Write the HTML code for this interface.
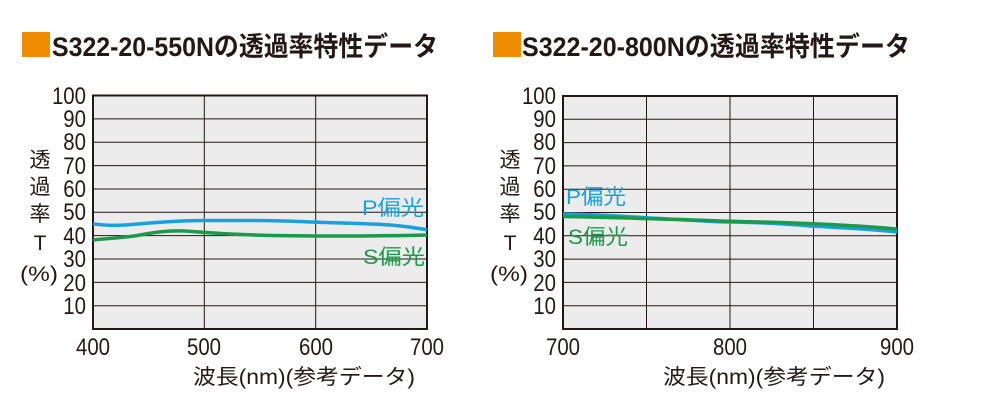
<!DOCTYPE html>
<html><head><meta charset="utf-8"><style>
html,body{margin:0;padding:0;background:#fff;}
svg{display:block;}
text{font-family:"Liberation Sans","Noto Sans CJK JP",sans-serif;}
.t{font-weight:bold;font-size:27px;fill:#231815;}
.n{font-size:24px;fill:#231815;}
.j{font-size:21px;fill:#231815;}
</style></head><body>
<svg width="1002" height="403" viewBox="0 0 1002 403" xmlns="http://www.w3.org/2000/svg">
<rect x="22" y="32" width="28" height="25" fill="#ef8c00"/>
<text class="t" x="52" y="56" textLength="386" lengthAdjust="spacingAndGlyphs">S322-20-550Nの透過率特性データ</text>
<rect x="493" y="32" width="28" height="25" fill="#ef8c00"/>
<text class="t" x="522" y="56" textLength="388" lengthAdjust="spacingAndGlyphs">S322-20-800Nの透過率特性データ</text>

<g>
<rect x="93" y="95.5" width="334" height="233.5" fill="#ececec" stroke="#231815" stroke-width="2"/>
<g stroke="#231815" stroke-width="1">
<line x1="93" x2="427" y1="118.9" y2="118.9"/><line x1="93" x2="427" y1="142.2" y2="142.2"/>
<line x1="93" x2="427" y1="165.6" y2="165.6"/><line x1="93" x2="427" y1="189" y2="189"/>
<line x1="93" x2="427" y1="212.3" y2="212.3"/><line x1="93" x2="427" y1="235.6" y2="235.6"/>
<line x1="93" x2="427" y1="259" y2="259"/><line x1="93" x2="427" y1="282.4" y2="282.4"/>
<line x1="93" x2="427" y1="305.7" y2="305.7"/>
<line x1="204.3" x2="204.3" y1="95.5" y2="329"/><line x1="315.7" x2="315.7" y1="95.5" y2="329"/>
</g>
<path d="M93 224 C105 225 112 226 125 225 C150 223 175 220.5 204 220.5 C240 220.5 260 220 300 221.5 C330 223 360 223 390 225 C405 226 415 228 427 229.7" fill="none" stroke="#1aa0dd" stroke-width="3.5"/>
<path d="M93 240 C110 238 125 238 140 235 C160 231 175 230.5 185 231 C200 232 210 233 230 234 C260 235.5 290 236 340 236 C380 236 400 235.5 427 235" fill="none" stroke="#1a9a4a" stroke-width="3.5"/>
<text class="j" x="362" y="215" textLength="62" lengthAdjust="spacingAndGlyphs" style="fill:#1aa0dd">P偏光</text>
<text class="j" x="363" y="264" textLength="62" lengthAdjust="spacingAndGlyphs" style="fill:#1a9a4a">S偏光</text>
<g text-anchor="end">
<text class="n" transform="translate(86,104) scale(0.85,1)">100</text>
<text class="n" transform="translate(86,127) scale(0.85,1)">90</text>
<text class="n" transform="translate(86,150) scale(0.85,1)">80</text>
<text class="n" transform="translate(86,174) scale(0.85,1)">70</text>
<text class="n" transform="translate(86,197) scale(0.85,1)">60</text>
<text class="n" transform="translate(86,220) scale(0.85,1)">50</text>
<text class="n" transform="translate(86,244) scale(0.85,1)">40</text>
<text class="n" transform="translate(86,267) scale(0.85,1)">30</text>
<text class="n" transform="translate(86,291) scale(0.85,1)">20</text>
<text class="n" transform="translate(86,314) scale(0.85,1)">10</text>
</g>
<g text-anchor="middle">
<text class="n" transform="translate(93,355) scale(0.85,1)">400</text>
<text class="n" transform="translate(204,355) scale(0.85,1)">500</text>
<text class="n" transform="translate(316,355) scale(0.85,1)">600</text>
<text class="n" transform="translate(427,355) scale(0.85,1)">700</text>
</g>
<g text-anchor="middle">
<text class="j" x="40" y="167">透</text><text class="j" x="40" y="194">過</text>
<text class="j" x="40" y="221">率</text><text class="j" x="40" y="250">T</text>
<text class="j" x="39" y="281" textLength="38" lengthAdjust="spacingAndGlyphs">(%)</text>
</g>
<text class="j" x="193" y="384" textLength="222" lengthAdjust="spacingAndGlyphs">波長(nm)(参考データ)</text>
</g>

<g>
<rect x="563" y="96" width="334" height="233" fill="#ececec" stroke="#231815" stroke-width="2"/>
<g stroke="#231815" stroke-width="1">
<line x1="563" x2="897" y1="119.3" y2="119.3"/><line x1="563" x2="897" y1="142.6" y2="142.6"/>
<line x1="563" x2="897" y1="165.9" y2="165.9"/><line x1="563" x2="897" y1="189.2" y2="189.2"/>
<line x1="563" x2="897" y1="212.5" y2="212.5"/><line x1="563" x2="897" y1="235.8" y2="235.8"/>
<line x1="563" x2="897" y1="259.1" y2="259.1"/><line x1="563" x2="897" y1="282.4" y2="282.4"/>
<line x1="563" x2="897" y1="305.7" y2="305.7"/>
<line x1="646.5" x2="646.5" y1="96" y2="329"/><line x1="730" x2="730" y1="96" y2="329"/><line x1="813.5" x2="813.5" y1="96" y2="329"/>
</g>
<path d="M563 214 C600 214.5 620 216 650 218 C690 220 710 222 730 222 C760 222.5 790 224 810 226 C840 227.5 870 229 897 232" fill="none" stroke="#1aa0dd" stroke-width="3.5"/>
<path d="M563 216.5 C600 217 640 218.5 680 219.5 C710 220.5 730 221.5 760 222 C800 223 850 225 897 229" fill="none" stroke="#1a9a4a" stroke-width="3.5"/>
<text class="j" x="566" y="204" textLength="60" lengthAdjust="spacingAndGlyphs" style="fill:#1aa0dd">P偏光</text>
<text class="j" x="568" y="244" textLength="60" lengthAdjust="spacingAndGlyphs" style="fill:#1a9a4a">S偏光</text>
<g text-anchor="end">
<text class="n" transform="translate(556,104) scale(0.85,1)">100</text>
<text class="n" transform="translate(556,127) scale(0.85,1)">90</text>
<text class="n" transform="translate(556,150) scale(0.85,1)">80</text>
<text class="n" transform="translate(556,174) scale(0.85,1)">70</text>
<text class="n" transform="translate(556,197) scale(0.85,1)">60</text>
<text class="n" transform="translate(556,220) scale(0.85,1)">50</text>
<text class="n" transform="translate(556,244) scale(0.85,1)">40</text>
<text class="n" transform="translate(556,267) scale(0.85,1)">30</text>
<text class="n" transform="translate(556,291) scale(0.85,1)">20</text>
<text class="n" transform="translate(556,314) scale(0.85,1)">10</text>
</g>
<g text-anchor="middle">
<text class="n" transform="translate(563,355) scale(0.85,1)">700</text>
<text class="n" transform="translate(730,355) scale(0.85,1)">800</text>
<text class="n" transform="translate(897,355) scale(0.85,1)">900</text>
</g>
<g text-anchor="middle">
<text class="j" x="510" y="167">透</text><text class="j" x="510" y="194">過</text>
<text class="j" x="510" y="221">率</text><text class="j" x="510" y="250">T</text>
<text class="j" x="509" y="281" textLength="38" lengthAdjust="spacingAndGlyphs">(%)</text>
</g>
<text class="j" x="663" y="384" textLength="222" lengthAdjust="spacingAndGlyphs">波長(nm)(参考データ)</text>
</g>
</svg>
</body></html>
